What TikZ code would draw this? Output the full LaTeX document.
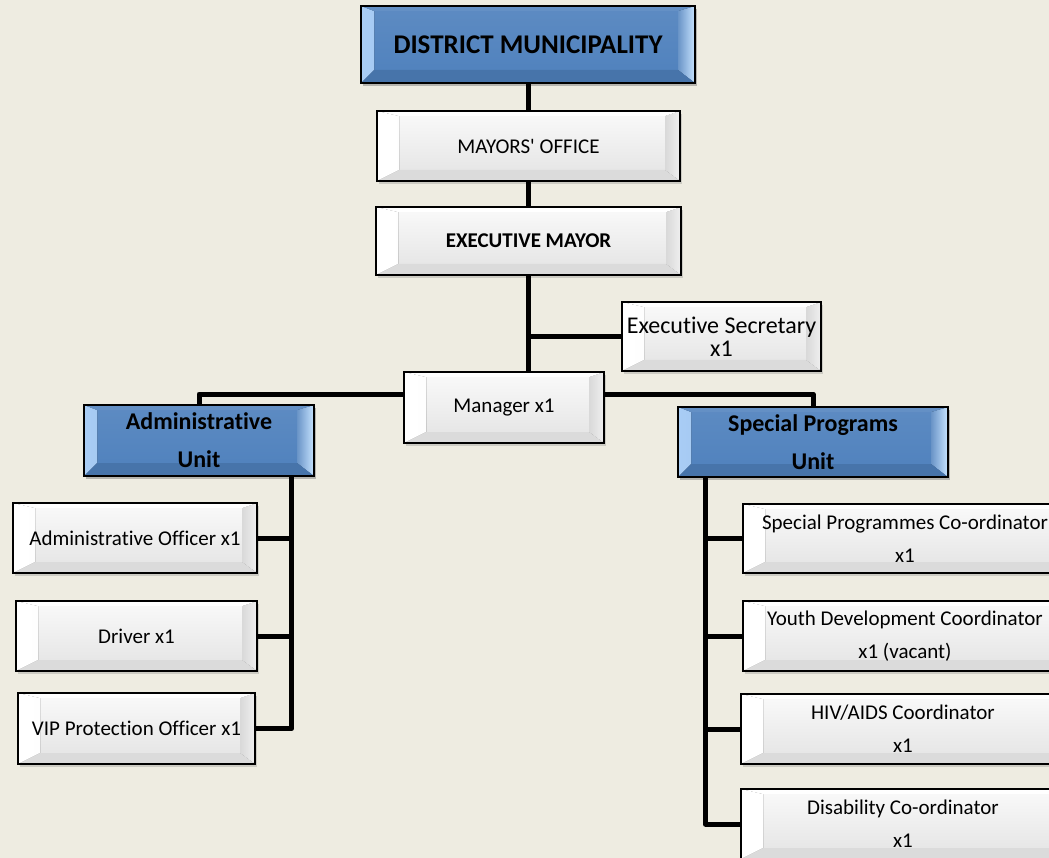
\documentclass[tikz,border=0pt]{standalone}
\usepackage{fontspec}
\setmainfont{Carlito}[Ligatures=NoCommon]
\usetikzlibrary{shadows}

\definecolor{paper}{HTML}{EEECE1}
\definecolor{unitblue}{HTML}{4F81BD}
\definecolor{bevlight}{HTML}{A9CDF5}
\definecolor{bevbright}{HTML}{C6E3FF}

% bevel: insets L R T B, then fills for left, right, top, bottom faces
\newcommand{\bevelfaces}[8]{%
  \fill[#5] (path picture bounding box.south west) -- (path picture bounding box.north west)
    -- ([xshift=#1pt,yshift=-#3pt]path picture bounding box.north west)
    -- ([xshift=#1pt,yshift=#4pt]path picture bounding box.south west) -- cycle;
  \fill[#6] (path picture bounding box.south east) -- (path picture bounding box.north east)
    -- ([xshift=-#2pt,yshift=-#3pt]path picture bounding box.north east)
    -- ([xshift=-#2pt,yshift=#4pt]path picture bounding box.south east) -- cycle;
  \fill[#7] (path picture bounding box.north west) -- (path picture bounding box.north east)
    -- ([xshift=-#2pt,yshift=-#3pt]path picture bounding box.north east)
    -- ([xshift=#1pt,yshift=-#3pt]path picture bounding box.north west) -- cycle;
  \fill[#8] (path picture bounding box.south west) -- (path picture bounding box.south east)
    -- ([xshift=-#2pt,yshift=#4pt]path picture bounding box.south east)
    -- ([xshift=#1pt,yshift=#4pt]path picture bounding box.south west) -- cycle;
}

\tikzset{
  card/.style={rectangle, draw=black, line width=1.5pt, inner sep=2pt, align=center,
    drop shadow={opacity=0.3, shadow xshift=2pt, shadow yshift=-3pt},
    top color=gray!4, bottom color=gray!22,
    path picture={\bevelfaces{22}{15}{5}{11}{left color=white,right color=gray!6}{left color=gray!30,right color=gray!12}{white}{gray!28}}},
  unit/.style={card, top color=unitblue!92!white, bottom color=unitblue,
    path picture={\bevelfaces{13}{17}{5}{13}{left color=bevlight,right color=unitblue!80!white}{left color=unitblue!85!white,right color=bevbright}{unitblue!88!white}{unitblue!90!black}}},
  sz/.style 2 args={minimum width=#1pt, minimum height=#2pt},
  link/.style={draw=black, line width=5pt, line join=round},
}

\begin{document}
\begin{tikzpicture}[x=1pt,y=-1pt]
    \useasboundingbox (0,0) rectangle (1049,858);
    \clip (0,0) rectangle (1049,858);
    \fill[paper] (0,0) rectangle (1049,858);

    \begin{scope}[every node/.style={card, font=\fontsize{21}{33}\selectfont}]
    \node[unit, sz={334}{77}, font=\bfseries\fontsize{27}{32}\selectfont] (dm) at (528,44.5) {DISTRICT MUNICIPALITY};
    \node[sz={303}{70}] (mo) at (528.5,146) {MAYORS\textquotesingle{} OFFICE};
    \node[sz={305}{68}, font=\bfseries\fontsize{21}{26}\selectfont] (em) at (528.5,241) {EXECUTIVE MAYOR};
    \node[sz={199}{69}, font=\fontsize{24}{23}\selectfont] (es) at (721.5,336.5) {Executive Secretary\\x1};
    \node[sz={200}{71}] (mgr) at (504,407.5) {Manager x1};
    \node[unit, sz={230}{71}, font=\bfseries\fontsize{24}{38}\selectfont] (au) at (199,440.5) {Administrative\\Unit};
    \node[unit, sz={270}{70}, font=\bfseries\fontsize{24}{38}\selectfont] (spu) at (813,442) {Special Programs\\Unit};
    \node[sz={244}{70}] (ao) at (135,538) {Administrative Officer x1};
    \node[sz={241}{70}] (drv) at (136.5,636) {Driver x1};
    \node[sz={237}{71}] (vip) at (136.5,728.5) {VIP Protection Officer x1};
    \node[sz={324}{69}] (spc) at (905,538.5) {Special Programmes Co-ordinator\\x1};
    \node[sz={324}{70}] (ydc) at (905,636) {Youth Development Coordinator\\x1 (vacant)};
    \node[sz={324}{70}] (hiv) at (903,729) {HIV/AIDS Coordinator\\x1};
    \node[sz={324}{70}] (dis) at (903,824) {Disability Co-ordinator\\x1};
    \end{scope}

    \coordinate (bus) at (504,394);
    \coordinate (abus) at ([xshift=-23pt]au.south east);
    \coordinate (sbus) at ([xshift=28pt]spu.south west);

    \begin{scope}[every edge/.style={link}]
    \path (dm.south) edge (dm.south |- mo.north)
          (mo.south) edge (mo.south |- em.north)
          (em.south) edge (em.south |- mgr.north)
          (es.west) edge (es.west -| em.south)
          (ao.east) edge (ao.east -| abus)
          (drv.east) edge (drv.east -| abus)
          (spc.west) edge (spc.west -| sbus)
          (ydc.west) edge (ydc.west -| sbus)
          (hiv.west) edge (hiv.west -| sbus);
    \end{scope}
    \draw[link] (au.north) |- (bus -| mgr.west);
    \draw[link] (bus -| mgr.east) -| (spu.north);
    \draw[link] (abus) |- (vip.east);
    \draw[link] (sbus) |- (dis.west);
\end{tikzpicture}
\end{document}
